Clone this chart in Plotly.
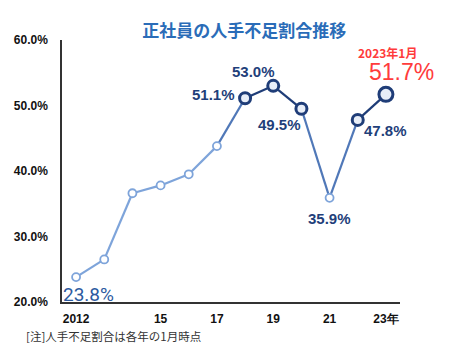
import plotly.graph_objects as go

years = [2012, 2013, 2014, 2015, 2016, 2017, 2018, 2019, 2020, 2021, 2022, 2023]
values = [23.8, 26.5, 36.6, 37.8, 39.5, 43.8, 51.1, 53.0, 49.5, 35.9, 47.8, 51.7]
x_tickvals = [2012, 2015, 2017, 2019, 2021, 2023]
x_ticktext = ["2012", "15", "17", "19", "21", "23年"]
y_tickvals = [20, 30, 40, 50, 60]
y_ticktext = ["20.0%", "30.0%", "40.0%", "50.0%", "60.0%"]

LIGHT = "#7ea4da"
MID = "#5078b8"
DARK = "#1f3d78"
LABEL = "#1f3f7a"
RED = "#ff3b3b"

# segment colours (index i: segment from point i to i+1)
seg_colors = [LIGHT, LIGHT, LIGHT, LIGHT, LIGHT, MID, DARK, DARK, MID, MID, DARK]

fig = go.Figure()
for i, c in enumerate(seg_colors):
    fig.add_trace(go.Scatter(x=years[i:i + 2], y=values[i:i + 2], mode="lines",
                             line=dict(color=c, width=2.2), hoverinfo="skip",
                             showlegend=False))

light_idx = [0, 1, 2, 3, 4, 5, 9]
dark_idx = [6, 7, 8, 10]
fig.add_trace(go.Scatter(x=[years[i] for i in light_idx], y=[values[i] for i in light_idx],
                         mode="markers", showlegend=False,
                         marker=dict(size=8, color="white", line=dict(color=LIGHT, width=1.8))))
fig.add_trace(go.Scatter(x=[years[i] for i in dark_idx], y=[values[i] for i in dark_idx],
                         mode="markers", showlegend=False,
                         marker=dict(size=11, color="#e8eef8", line=dict(color=DARK, width=3))))
fig.add_trace(go.Scatter(x=[years[11]], y=[values[11]], mode="markers", showlegend=False,
                         marker=dict(size=14, color="#e8eef8", line=dict(color=DARK, width=3))))

lab_font = dict(family="Liberation Sans", size=15, color=LABEL, weight="bold")

def pct(v):
    return f"{v:.1f}%"

anns = [
    dict(x=years[0], y=values[0], text=pct(values[0]), xanchor="left", yanchor="middle",
         xshift=-15, yshift=-17, font=dict(family="Roboto", size=19, color="#2c5aa0")),
    dict(x=years[6], y=values[6], text=pct(values[6]), xanchor="right", yanchor="middle",
         xshift=-8, yshift=4, font=lab_font),
    dict(x=years[7], y=values[7], text=pct(values[7]), xanchor="center", yanchor="bottom",
         xshift=-20, yshift=4, font=lab_font),
    dict(x=years[8], y=values[8], text=pct(values[8]), xanchor="center", yanchor="top",
         xshift=-22, yshift=-5, font=lab_font),
    dict(x=years[9], y=values[9], text=pct(values[9]), xanchor="center", yanchor="top",
         xshift=0, yshift=-10, font=lab_font),
    dict(x=years[10], y=values[10], text=pct(values[10]), xanchor="left", yanchor="top",
         xshift=4, yshift=0, font=lab_font),
    dict(x=years[11], y=values[11], text=pct(values[11]), xanchor="center", yanchor="bottom",
         xshift=16, yshift=7, font=dict(family="Liberation Sans", size=23, color=RED)),
    dict(x=years[11], y=values[11], text="2023年1月", xanchor="center", yanchor="bottom",
         xshift=2, yshift=31, font=dict(family="Noto Sans CJK JP", size=12, color=RED, weight="bold")),
    dict(x=-0.112, y=-0.13, xref="paper", yref="paper", text="[注]人手不足割合は各年の1月時点",
         xanchor="left", yanchor="middle", showarrow=False,
         font=dict(family="Noto Sans CJK JP", size=11.5, color="#333333")),
]
for a in anns:
    a.setdefault("showarrow", False)
    fig.add_annotation(**a)

fig.update_layout(
    width=468, height=360,
    margin=dict(l=54, r=76, t=32, b=66),
    paper_bgcolor="white", plot_bgcolor="white",
    title=dict(text="正社員の人手不足割合推移", x=0.505, xanchor="center", y=0.935, yanchor="middle",
               font=dict(family="Noto Sans CJK JP", size=17, color="#2a6cb8", weight="bold")),
    xaxis=dict(range=[2011.5, 2023.5], tickvals=x_tickvals, ticktext=x_ticktext, automargin=False,
               showgrid=False, zeroline=False, showline=True, linecolor="#333333", linewidth=1.5,
               ticks="", ticklabelstandoff=5,
               tickfont=dict(family="Liberation Sans", size=12, color="#111111", weight="bold")),
    yaxis=dict(range=[20, 60], tickvals=y_tickvals, ticktext=y_ticktext, automargin=False,
               showgrid=False, zeroline=False, showline=True, linecolor="#333333", linewidth=1.5,
               ticks="", ticklabelstandoff=10,
               tickfont=dict(family="Liberation Sans", size=12, color="#111111", weight="bold")),
)
fig.write_html("out.html")
